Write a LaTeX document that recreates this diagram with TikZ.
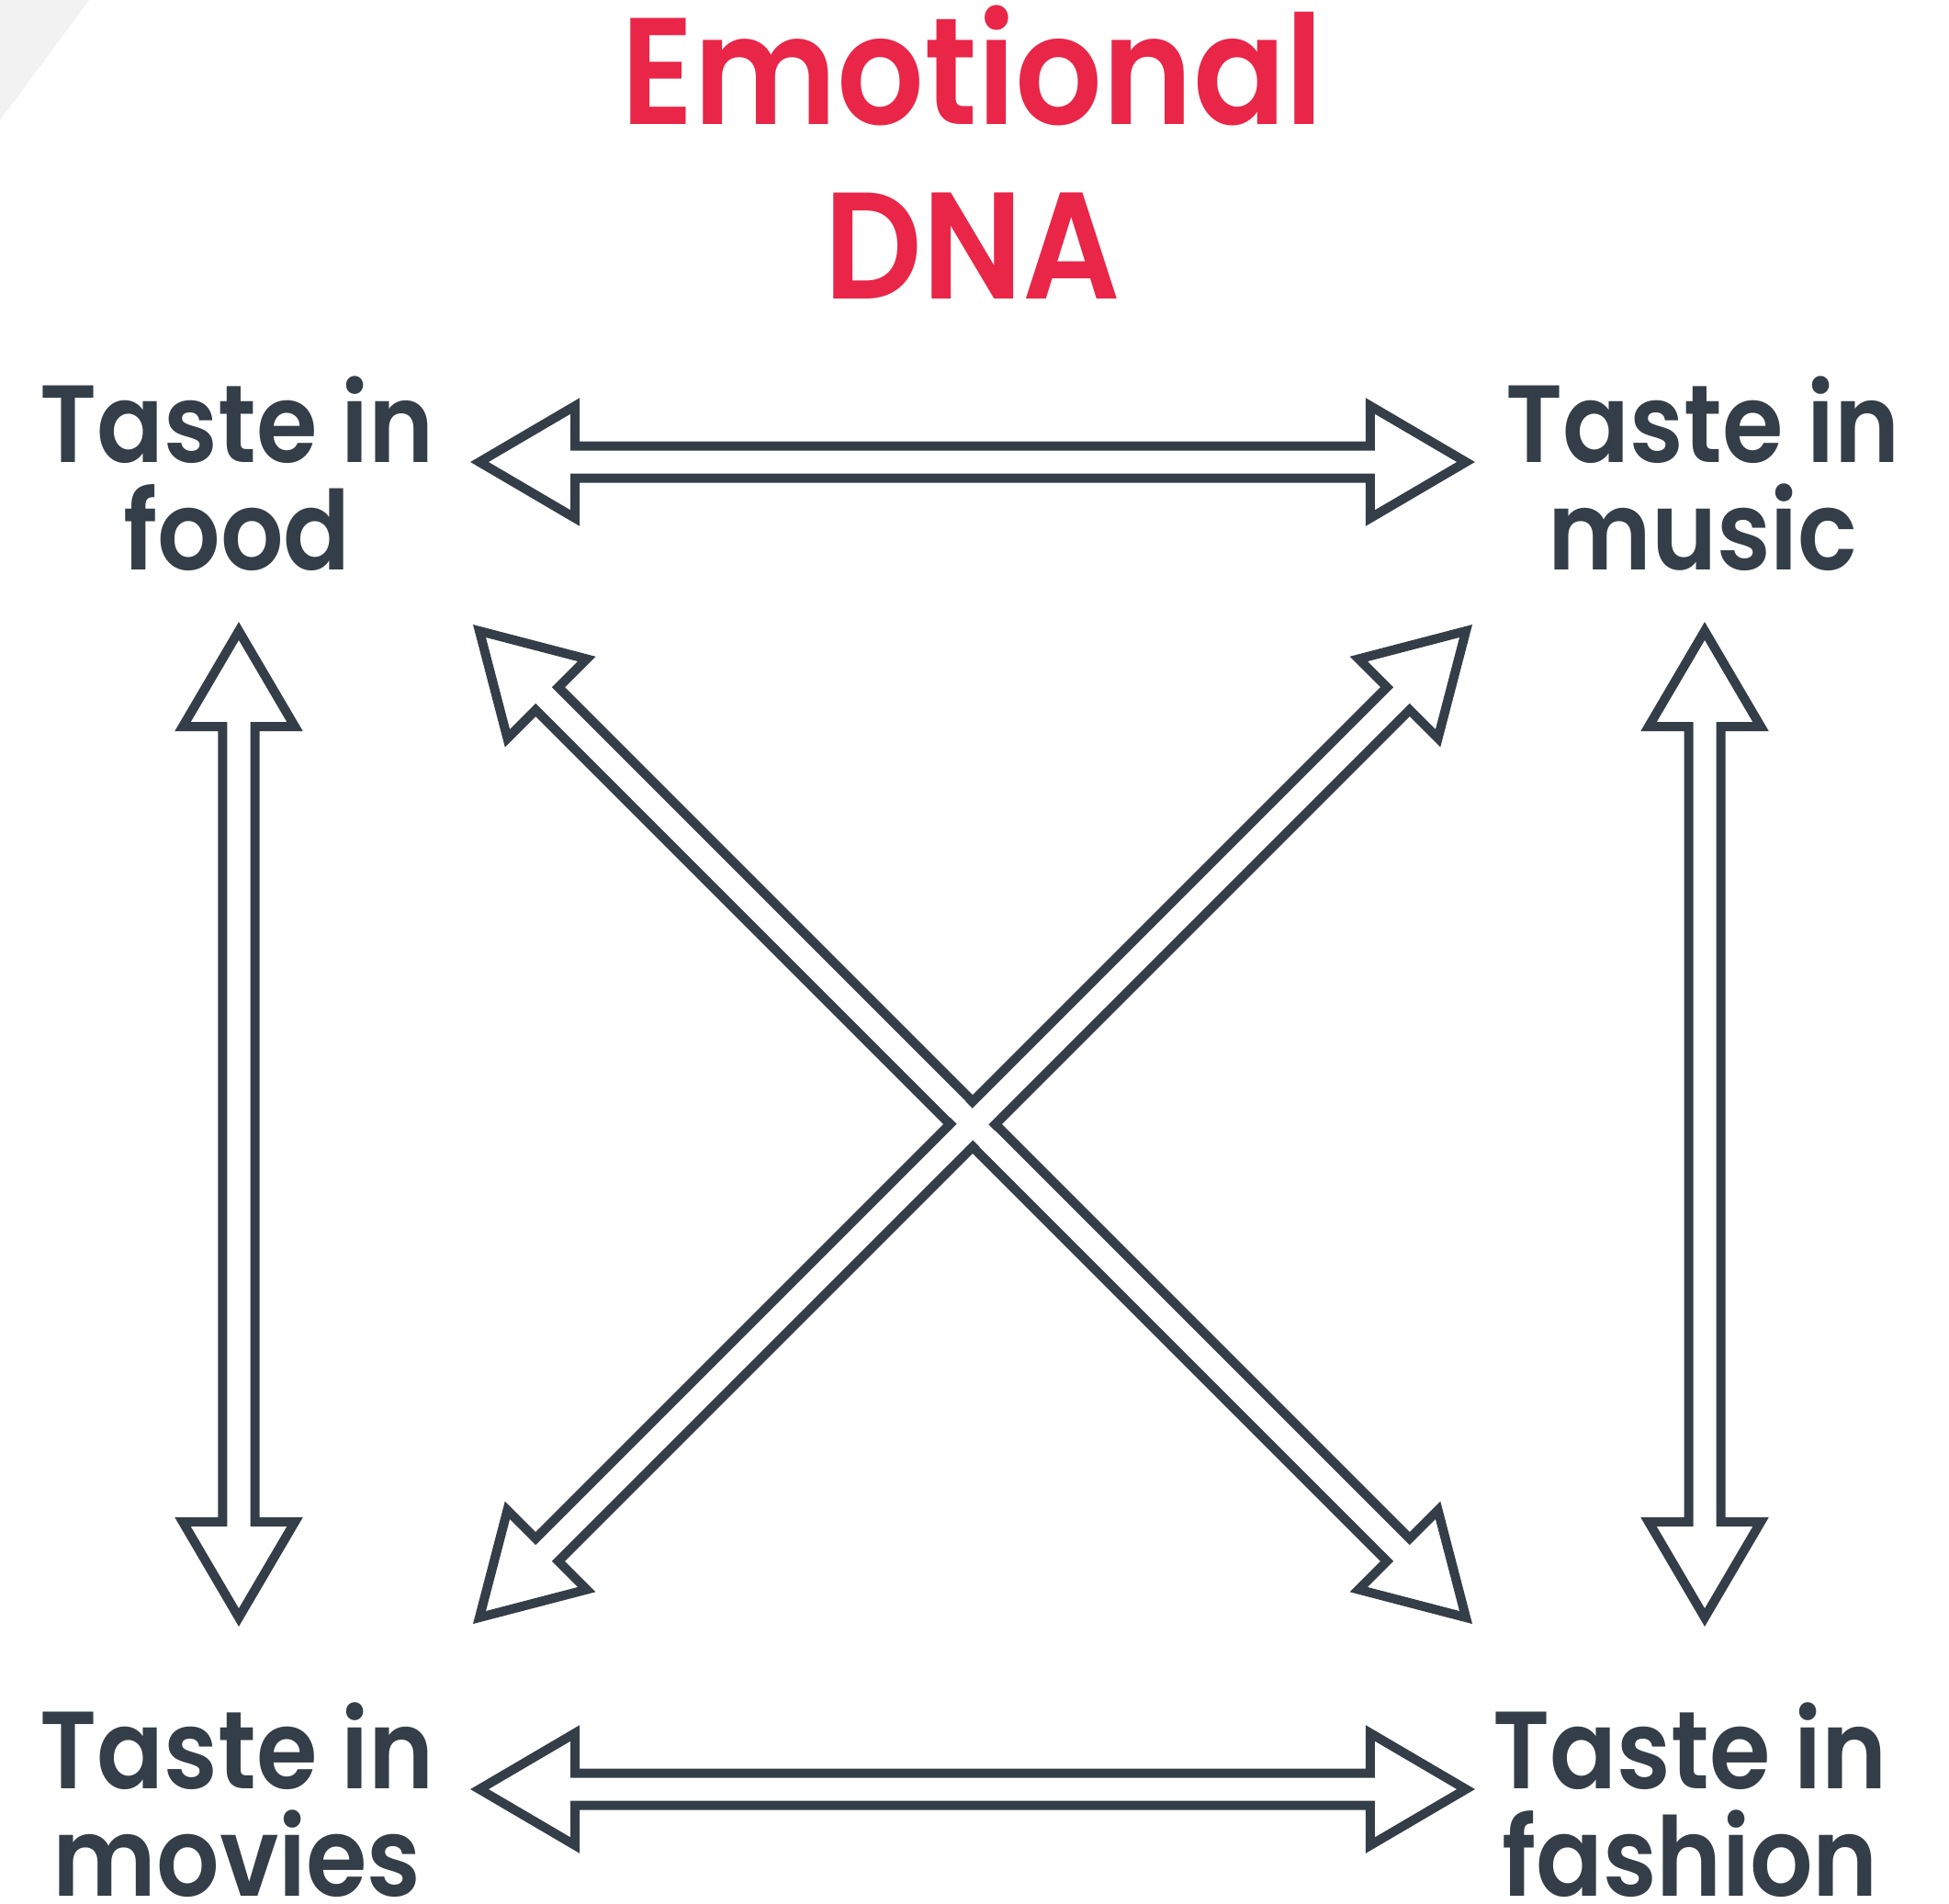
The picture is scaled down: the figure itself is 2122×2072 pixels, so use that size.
\documentclass[tikz,border=0pt]{standalone}
\usepackage{fontspec}
\setmainfont{Poppins}
\newfontfamily\labelfont{Poppins}[UprightFont=* SemiBold, FakeStretch=0.9]
\usetikzlibrary{calc}

\definecolor{slate}{HTML}{343E48}
\definecolor{emored}{HTML}{E92548}
\definecolor{cornergray}{HTML}{F2F2F2}

\def\headlen{1.04cm}
\def\headhalf{0.61cm}
\def\shafthalf{0.175cm}

% hollow block arrow with a head at both ends: name, from, to
\newcommand{\hollowarrow}[3]{%
  \coordinate (#1-a) at ($(#2)!\headlen!(#3)$);
  \coordinate (#1-b) at ($(#3)!\headlen!(#2)$);
  \draw[hollow] (#2)
    -- ($(#1-a)!\headhalf!90:(#3)$)
    -- ($(#1-a)!\shafthalf!90:(#3)$)
    -- ($(#1-b)!\shafthalf!-90:(#2)$)
    -- ($(#1-b)!\headhalf!-90:(#2)$)
    -- (#3)
    -- ($(#1-b)!\headhalf!90:(#2)$)
    -- ($(#1-b)!\shafthalf!90:(#2)$)
    -- ($(#1-a)!\shafthalf!-90:(#3)$)
    -- ($(#1-a)!\headhalf!-90:(#3)$)
    -- cycle;
}

\begin{document}
\begin{tikzpicture}[x=0.01cm, y=-0.01cm,
  every node/.style={inner sep=0pt, outer sep=0pt},
  headline/.style={font=\labelfont\fontsize{47}{54}\selectfont, text=emored, align=center, anchor=base},
  cornerlabel/.style={font=\labelfont\fontsize{34}{33}\selectfont, text=slate, align=center, anchor=base},
  hollow/.style={draw=slate, line width=0.1cm, fill=white},
  whiteout/.style={draw=white, line width=0.24cm}]
  \useasboundingbox (0,0) rectangle (2122,2072);
  \fill[white] (0,0) rectangle (2122,2072);
  \fill[cornergray] (0,0) -- (97,0) -- (0,131) -- cycle;

  % Title (anchored at the last line)
  \node[headline] (emo) at (1059,325) {Emotional\\DNA};

  % Corner labels
  \node[cornerlabel] (food) at (258,620) {Taste in\\food};
  \node[cornerlabel] (music) at (1854,620) {Taste in\\music};
  \node[cornerlabel] (movies) at (258,2064) {Taste in\\movies};
  \node[cornerlabel] (fashion) at (1840,2064) {Taste in\\fashion};

  % Arrow ends
  \coordinate (food-r) at (522,503);
  \coordinate (music-l) at (1596,503);
  \coordinate (movies-r) at (522,1948);
  \coordinate (fashion-l) at (1596,1948);
  \coordinate (food-b) at (260,687);
  \coordinate (movies-t) at (260,1761);
  \coordinate (music-b) at (1856,687);
  \coordinate (fashion-t) at (1856,1761);
  \coordinate (food-d) at (522,687);
  \coordinate (fashion-d) at (1596,1761);
  \coordinate (music-d) at (1596,687);
  \coordinate (movies-d) at (522,1761);

  % Arrows
  \hollowarrow{top}{food-r}{music-l}
  \hollowarrow{bottom}{movies-r}{fashion-l}
  \hollowarrow{left}{food-b}{movies-t}
  \hollowarrow{right}{music-b}{fashion-t}
  \hollowarrow{cross1}{food-d}{fashion-d}
  \hollowarrow{cross2}{music-d}{movies-d}
  \coordinate (hub) at ($(food-d)!0.5!(fashion-d)$);
  \draw[whiteout] ($(hub)!0.5cm!(food-d)$) -- ($(hub)!0.5cm!(fashion-d)$);
  \draw[whiteout] ($(hub)!0.5cm!(music-d)$) -- ($(hub)!0.5cm!(movies-d)$);
\end{tikzpicture}
\end{document}
